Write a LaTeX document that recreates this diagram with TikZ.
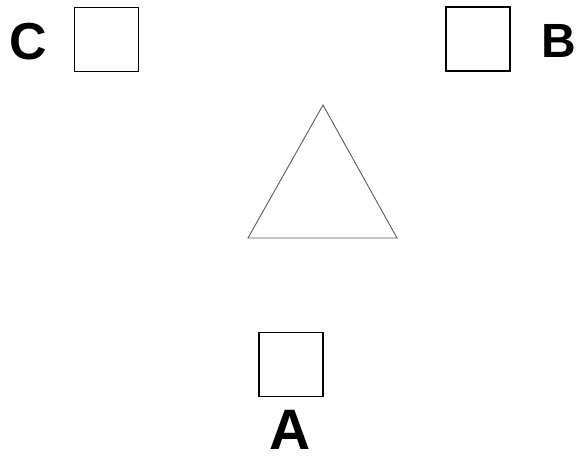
\documentclass[tikz,border=0pt]{standalone}
\usepackage{fontspec}
\setmainfont{Liberation Sans}
\begin{document}
\begin{tikzpicture}[x=1pt,y=-1pt,
  sq/.style={draw=black,line width=1.4pt,minimum size=64pt,inner sep=0pt},
  lbl/.style={font=\bfseries\fontsize{52}{52}\selectfont,inner sep=0pt,anchor=base,text depth=0pt},
  tri/.style={draw=black!65,line width=0.9pt,line join=miter}]
\useasboundingbox (0,0) rectangle (578,458);
\node[sq] (sqC) at (106.5,39.5) {};
\node[sq] (sqB) at (478,39) {};
\node[sq] (sqA) at (291,364.5) {};
\node[lbl] (lC) at (28.5,59) {C};
\node[lbl,font=\bfseries\fontsize{48}{48}\selectfont] (lB) at (559,57) {B};
\node[lbl,font=\bfseries\fontsize{57}{57}\selectfont,text height=42pt] (lA) at (290,449) {A};
\coordinate (t1) at (323,105);
\coordinate (t2) at (248,238);
\coordinate (t3) at (397,238);
\draw[tri] (t1) -- (t2) -- (t3) -- cycle;
\end{tikzpicture}
\end{document}
